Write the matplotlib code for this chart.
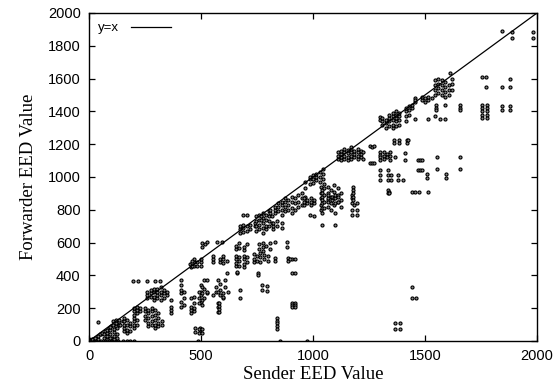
import matplotlib
matplotlib.use("Agg")
import matplotlib.pyplot as plt

# Each entry: sender EED value and the forwarder EED values observed for it
stack_x = [
    0, 10, 20, 30, 40, 55, 70, 85, 100, 115, 130, 150, 170, 185, 200,
    15, 25, 42, 50, 60, 65, 80, 90, 95, 105, 110, 120, 125, 135, 140,
    155, 170, 185, 200, 215, 228, 198, 220, 257, 295, 315,
    250, 260, 265, 275, 280, 290, 295, 305, 310, 320, 325, 335, 347,
    365, 410, 425, 455, 470, 450, 460, 480, 500, 475, 495,
    490, 503, 505, 515, 527, 518, 525, 570, 592,
    555, 585, 600, 615, 565, 577, 580, 607, 620,
    615, 659, 756, 655, 670, 690, 705, 675, 720, 740, 689, 704,
    745, 760, 775, 790, 805, 817, 735, 750, 765, 780, 800, 810,
    793, 773, 674, 770,
    820, 830, 840, 845, 860, 875, 890, 905, 919, 920, 935, 950, 964,
    838, 882, 897, 487, 853, 972,
    960, 975, 985, 990, 1000, 1005, 1015, 1030, 1035, 1039, 1045, 1050,
    1065, 1069, 1080, 1085, 1095, 1098, 1100, 1110, 1113, 1125, 1140,
    1155, 1170, 1173, 1180, 1183, 1185, 1195, 1200, 1215, 1225,
    1254, 1262, 1272, 1299, 1315, 1330, 1336, 1339, 1344, 1350, 1366,
    1381, 1400, 1411, 1470,
    1310, 1325, 1340, 1355, 1362, 1370, 1385, 1418, 1415, 1425, 1430, 1440,
    1455, 1485, 1500, 1515, 1530, 1545, 1560, 1575, 1590, 1605, 1612, 1620,
    1512, 1549, 1567, 1589, 1656, 1753, 1775, 1842, 1879, 1771,
    1887, 1984, 1478, 1552, 1507, 1592, 1473, 1513, 1458, 1388,
]
stack_y = [
    [0, 10], [0, 5], [0, 15], [0, 20], [0, 15, 30], [0, 40], [0, 15, 60], [0, 70], [0, 20, 90], [0, 100], [0, 110], [0, 120], [0], [0], [0],
    [10], [20], [118], [40], [50], [20, 40], [15, 30, 50, 70], [15, 80], [20, 45, 65, 85], [100, 120], [10, 30, 55, 75], [90, 110, 130], [20, 40, 80], [95, 115, 130], [100],
    [60, 80, 100, 120, 140], [50, 70, 100, 130], [60, 90, 110], [80, 100, 120, 140, 160, 180, 200], [100, 130, 170, 190, 210], [180, 200], [368], [368], [368], [368], [368],
    [130, 150, 180, 200], [260, 280, 300], [90, 110, 140, 170, 190], [270, 290, 310], [100, 120, 150, 180, 200], [250, 270, 300, 320], [80, 100, 130, 160, 190], [260, 280, 300, 320], [90, 110, 140, 170], [250, 280, 300, 330], [100, 120], [260, 290, 310], [280, 300],
    [170, 190, 210, 250], [210, 240, 290, 310, 340, 370], [220, 260, 300], [170, 190, 210, 260, 450], [180, 200, 230, 268, 460, 480, 500], [470], [455, 475, 490], [460, 480], [460, 480, 500, 240, 280, 300, 340], [55, 78], [55, 78],
    [50, 75, 230, 260, 300], [50, 75, 575, 600], [220, 250, 290, 330], [260, 320, 370], [290], [590], [605, 300, 370], [605], [605],
    [480, 500, 520, 280], [480, 500, 280, 310, 350], [475, 500, 520, 260, 290, 270], [490], [300, 330], [372, 301, 232, 209, 179], [175, 195, 215, 232], [372, 331], [300],
    [416], [413, 423], [413, 401], [455, 475, 500, 520, 560, 580], [460, 485, 510, 570, 595], [450, 470, 500, 520, 555, 575], [480, 510, 590], [660, 680, 700], [680, 705], [700, 720], [665, 690, 710, 768], [670, 700, 768],
    [670, 700, 730, 760], [680, 710, 740, 770, 590, 560], [660, 690, 720, 750, 780, 600, 575, 550], [680, 700, 740, 770, 580], [700, 730, 760, 790], [720, 760], [480, 500, 530], [490, 520], [480, 510, 535], [500, 525], [490, 520], [780, 800, 600, 560],
    [335, 305], [341, 311], [311, 260], [740, 760],
    [680, 700, 720], [780, 800, 820, 602, 504, 490], [700, 730], [790, 820, 840], [690, 720, 770, 800, 830, 850], [790, 820, 850, 870], [800, 830, 860, 504, 490], [780, 810, 850, 880, 500, 413, 230, 218, 209], [500, 413, 230, 218, 209], [800, 840, 870], [820, 850, 890], [830, 870, 900], [850, 880, 930, 971],
    [142, 124, 108, 91, 71], [605, 575], [498], [0], [0], [0],
    [830, 850, 870], [840, 860], [960, 985, 1000, 768], [830, 850, 870], [965, 990, 1010], [840, 860, 762], [980, 1000, 1020], [970, 1000, 1030], [800, 830, 870, 900, 940], [921, 900, 880, 860, 840, 809, 779, 707], [990, 1020, 1050], [810, 850, 890, 930, 960],
    [820, 860, 900, 940], [850, 870, 890], [800, 840, 880, 920], [860, 880], [830, 870, 910, 950], [779, 707], [840, 870, 890], [1110, 1130, 1150, 850, 890, 930], [850, 880], [1105, 1120, 1140, 1160, 820, 860, 900], [1110, 1130, 1150, 1170],
    [1105, 1125, 1145, 1165], [1110, 1130, 1150, 1170, 1185], [890, 870, 840, 800, 768], [941, 920, 900, 880, 860], [829], [1120, 1140, 1160], [840, 800, 768], [1110, 1130, 1150, 1170], [1120, 1140, 1160], [1110, 1150],
    [1191, 1083], [1185, 1083], [1191, 1083], [1154, 1136, 1120, 1104, 1043, 1012, 982, 1368, 1350], [1150, 1130, 1110], [1140, 1120], [1043, 1012, 982, 921, 904], [910, 900], [1150, 1130, 1104], [1012, 982], [1124],
    [1012, 982], [982], [1144, 1104], [1104, 1043],
    [1320, 1340, 1360], [1300, 1330, 1350], [1310, 1340, 1360, 1380], [1300, 1320, 1350, 1370, 1390], [1226, 1209], [1310, 1340, 1360, 1380, 1400], [1320, 1350, 1370, 1390, 1226, 1209], [1226, 1209], [1340, 1370, 1400, 1420], [1226], [1380, 1410, 1430], [1420, 1440, 910, 327, 264],
    [1460, 1480, 1352, 910], [1470, 1485], [1460, 1480], [1470, 1485], [1480], [1500, 1530, 1560, 1590, 1370], [1510, 1540, 1570, 1600], [1500, 1530, 1560, 1590], [1490, 1520, 1550, 1580], [1500, 1530, 1560], [1632], [1530, 1570, 1600],
    [1352], [1439, 1420, 1408], [1352], [1439, 1352], [1439, 1420, 1408, 1124, 1049], [1439, 1420, 1400, 1380, 1358, 1608], [1439, 1420, 1400, 1380, 1358], [1433, 1409, 1551, 1892], [1433, 1409, 1551, 1596], [1608, 1551],
    [1882, 1845], [1882, 1845], [1104, 1043], [1124, 1049], [1018, 992], [1018, 992], [910], [910], [264], [112, 71],
]
extra_x = [1366, 1455, 1485]
extra_y = [[112, 71], [1470], [1104, 1043]]

sender = []
forwarder = []
for xs, ys in zip(stack_x + extra_x, stack_y + extra_y):
    for yv in ys:
        sender.append(xs)
        forwarder.append(yv)

x_ticks = [0, 500, 1000, 1500, 2000]
y_ticks = [0, 200, 400, 600, 800, 1000, 1200, 1400, 1600, 1800, 2000]

fig = plt.figure(figsize=(5.57, 3.89), dpi=100)
ax = fig.add_axes([89 / 557, 48 / 389, 448 / 557, 328 / 389])

ax.plot(sender, forwarder, linestyle="none", marker="o", ms=2.2,
        mfc="#888888", mec="black", mew=0.8)
ax.axline((0, 0), slope=1, color="black", lw=0.9, label="y=x")

ax.set_xlim(0, 2000)
ax.set_ylim(0, 2000)
ax.set_xticks(x_ticks)
ax.set_yticks(y_ticks)
ax.tick_params(direction="in", length=4, width=0.9, top=True, right=True,
               labelsize=10.5, pad=6)
for lab in ax.get_xticklabels() + ax.get_yticklabels():
    lab.set_fontfamily("Liberation Sans")
for sp in ax.spines.values():
    sp.set_linewidth(1.0)

ax.set_xlabel("Sender EED Value", family="Liberation Serif", fontsize=13.5, labelpad=2)
ax.set_ylabel("Forwarder EED Value", family="Liberation Serif", fontsize=13.5, labelpad=8)

leg = ax.legend(loc="upper left", markerfirst=False, frameon=False,
                prop={"family": "Liberation Sans", "size": 9.5},
                handlelength=3.0, handletextpad=0.9, borderaxespad=0.5,
                borderpad=0.2)

fig.savefig("out.png", dpi=100)
